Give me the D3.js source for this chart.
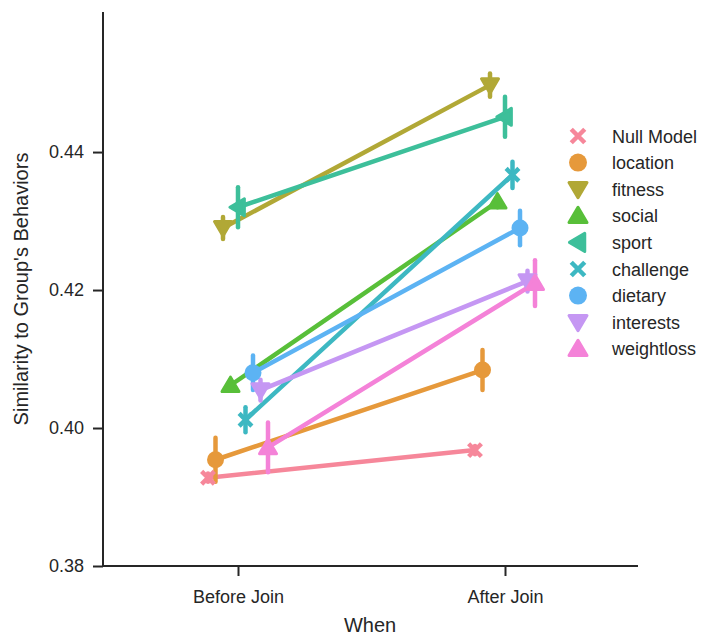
<!DOCTYPE html>
<html>
<head>
<meta charset="utf-8">
<script src="https://cdn.jsdelivr.net/npm/d3@7"></script>
<style>
  html, body { margin: 0; padding: 0; background: #fff; }
  svg { display: block; font-family: "Liberation Sans", Arial, sans-serif; }
</style>
</head>
<body>
<svg id="chart" width="701" height="635"></svg>
<script>
const when = ["Before Join", "After Join"];
const groups = ["Null Model", "location", "fitness", "social", "sport", "challenge", "dietary", "interests", "weightloss"];
const beforeValues = [0.3928, 0.3954, 0.4290, 0.4062, 0.4320, 0.4012, 0.4080, 0.4055, 0.3972];
const afterValues  = [0.3968, 0.4084, 0.4497, 0.4328, 0.4451, 0.4367, 0.4290, 0.4213, 0.4210];
const beforeErr = [0.0006, 0.0032, 0.0016, 0.0008, 0.0029, 0.0018, 0.0025, 0.0015, 0.0036];
const afterErr  = [0.0006, 0.0029, 0.0017, 0.0008, 0.0029, 0.0019, 0.0025, 0.0015, 0.0033];
const yTicks = [0.38, 0.40, 0.42, 0.44];
const colors = ["#f6879a", "#e6993b", "#b1a836", "#58bf39", "#3dbf9a", "#3db8c2", "#5cb3f3", "#c597f3", "#f482d8"];
const shapes = ["x", "circle", "tridown", "triup", "trileft", "x", "circle", "tridown", "triup"];

const svg = d3.select("#chart");
const ink = "#262626";
const tickFont = "18px";
const labelFont = "20px";

const x = d3.scalePoint().domain(when).range([104.5, 638.5]).padding(0.5);
const dodge = d3.scalePoint().domain(groups).range([-30, 30]);
const y = d3.scaleLinear().domain([0.38, 0.4603]).range([566, 12]);

// axes
const yAxis = d3.axisLeft(y).tickValues(yTicks).tickFormat(d3.format(".2f")).tickSize(10).tickPadding(9);
const gy = svg.append("g").attr("transform", "translate(103,0)").call(yAxis);
gy.select(".domain").attr("d", `M0,${y.range()[1]}V${y.range()[0]}`);
const xAxis = d3.axisBottom(x).tickSize(10).tickPadding(14);
const gx = svg.append("g").attr("transform", "translate(0,566)").call(xAxis);
gx.select(".domain").attr("d", "M103,0H638");
[gx, gy].forEach(g => {
  g.attr("font-size", null).attr("font-family", null);
  g.select(".domain").attr("stroke", ink).attr("stroke-width", 2);
  g.selectAll(".tick line").attr("stroke", ink).attr("stroke-width", 2);
  g.selectAll(".tick text").attr("fill", ink).style("font-size", tickFont);
});

svg.append("text").attr("x", 370).attr("y", 632).attr("text-anchor", "middle")
  .attr("fill", ink).style("font-size", labelFont).text("When");
svg.append("text").attr("transform", "translate(28,289) rotate(-90)").attr("text-anchor", "middle")
  .attr("fill", ink).style("font-size", labelFont).text("Similarity to Group's Behaviors");

function symbolPath(shape, s) {
  const h = s / 2;
  switch (shape) {
    case "circle": return d3.symbol().type(d3.symbolCircle).size(Math.PI * h * h)();
    case "tridown": return `M${-h},${-h * 0.75}L${h},${-h * 0.75}L0,${h * 0.95}Z`;
    case "triup": return `M${-h},${h * 0.75}L${h},${h * 0.75}L0,${-h * 0.95}Z`;
    case "trileft": return `M${h * 0.75},${-h}L${h * 0.75},${h}L${-h * 0.95},0Z`;
    case "x": { const a = h * 0.75; return `M${-a},${-a}L${a},${a}M${-a},${a}L${a},${-a}`; }
  }
}
function drawMarker(g, shape, color, cx, cy, s) {
  const p = g.append("path").attr("d", symbolPath(shape, s)).attr("transform", `translate(${cx},${cy})`);
  if (shape === "x") {
    p.attr("fill", "none").attr("stroke", color).attr("stroke-width", 4.5).attr("stroke-linecap", "butt");
  } else if (shape === "circle") {
    p.attr("fill", color);
  } else {
    p.attr("fill", color).attr("stroke", color).attr("stroke-width", 3).attr("stroke-linejoin", "round");
  }
}

const series = groups.map((g, i) => ({
  name: g, color: colors[i], shape: shapes[i],
  pts: [
    { w: when[0], v: beforeValues[i], e: beforeErr[i] },
    { w: when[1], v: afterValues[i], e: afterErr[i] }
  ]
}));

const lineGen = d3.line().x(d => x(d.w)).y(d => y(d.v));
const plot = svg.append("g");
series.forEach(s => {
  const off = dodge(s.name);
  plot.append("path").datum(s.pts).attr("d", lineGen).attr("transform", `translate(${off},0)`)
    .attr("fill", "none").attr("stroke", s.color).attr("stroke-width", 4.5).attr("stroke-linecap", "round");
  s.pts.forEach(p => {
    plot.append("line")
      .attr("x1", x(p.w) + off).attr("x2", x(p.w) + off)
      .attr("y1", y(p.v - p.e)).attr("y2", y(p.v + p.e))
      .attr("stroke", s.color).attr("stroke-width", 4.5).attr("stroke-linecap", "round");
  });
});
const markers = svg.append("g");
series.forEach(s => {
  const off = dodge(s.name);
  s.pts.forEach(p => drawMarker(markers, s.shape, s.color, x(p.w) + off, y(p.v), 17));
});

// legend
const lg = svg.append("g");
series.forEach((s, i) => {
  const ly = 136 + i * 26.6;
  drawMarker(lg, s.shape, s.color, 578, ly, 18);
  lg.append("text").attr("x", 612).attr("y", ly + 6.5).attr("fill", ink)
    .style("font-size", tickFont).text(s.name);
});
</script>
</body>
</html>
